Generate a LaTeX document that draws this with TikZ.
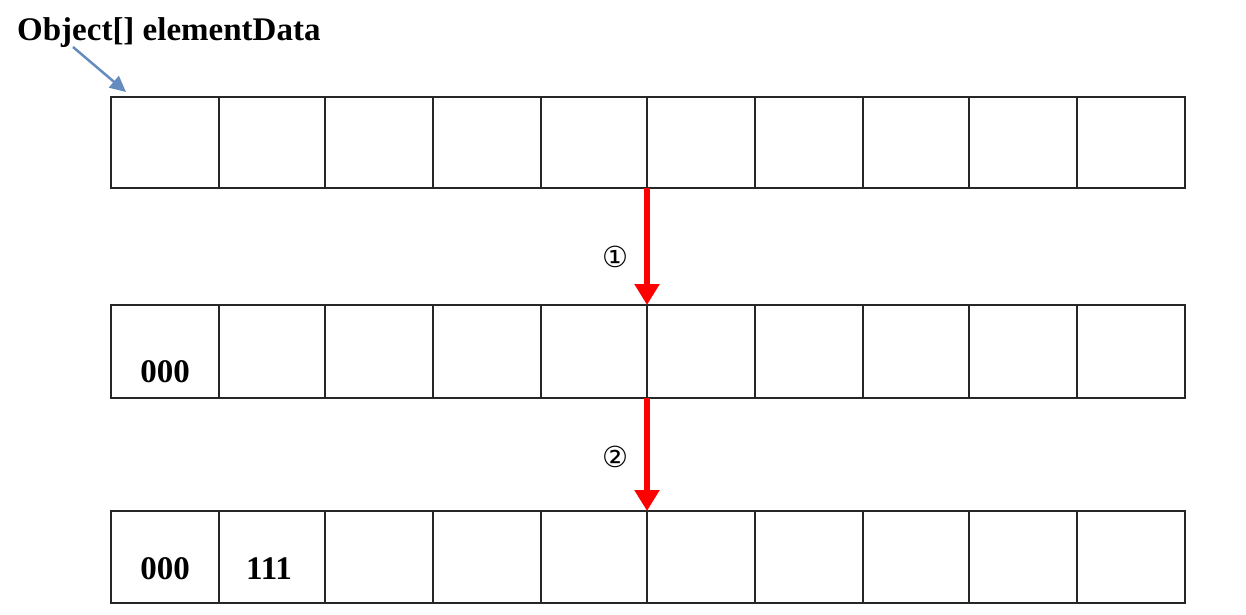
\documentclass[tikz,border=0pt]{standalone}
\usepackage{fontspec}
\setmainfont{Liberation Serif}
\newfontfamily\symfont{DejaVu Sans}
\usetikzlibrary{arrows.meta}
\begin{document}
\begin{tikzpicture}[x=1pt,y=-1pt,
  cellbox/.style={draw=black!85, line width=1.6pt},
  redarrow/.style={draw=red, line width=6pt, -{Triangle[length=21pt,width=24pt]}},
  bluearrow/.style={draw={rgb,255:red,100;green,140;blue,190}, line width=2.5pt, -{Triangle[length=16pt,width=15pt]}},
  valtext/.style={font=\bfseries\fontsize{33}{33}\selectfont, anchor=center},
  steplabel/.style={font=\symfont\fontsize{29}{29}\selectfont, anchor=center}]
\useasboundingbox (0,0) rectangle (1246,614);
\def\xs{{111,219,325,433,541,647,755,863,969,1077,1185}}
% rows
\foreach \r/\ya/\yb in {a/97/188, b/305/398, c/511/603} {
  \foreach \i in {0,...,9} {
    \pgfmathsetmacro{\xl}{\xs[\i]}
    \pgfmathtruncatemacro{\j}{\i+1}
    \pgfmathsetmacro{\xr}{\xs[\j]}
    \draw[cellbox] (\xl,\ya) rectangle (\xr,\yb);
  }
}
\node[font=\bfseries\fontsize{33}{33}\selectfont, anchor=base west, inner sep=0pt] (title) at (17,40) {Object[] elementData};
\coordinate (tailb) at (73,47);
\coordinate (headb) at (126,92);
\draw[bluearrow] (tailb) -- (headb);
% arrows
\coordinate (a1s) at (647,188);
\coordinate (a1e) at (647,305);
\coordinate (a2s) at (647,398);
\coordinate (a2e) at (647,511);
\draw[redarrow] (a1s) -- (a1e);
\draw[redarrow] (a2s) -- (a2e);
\node[steplabel] (s1) at (615,257) {①};
\node[steplabel] (s2) at (615,457) {②};
% values
\node[valtext] (v1) at (165,372) {000};
\node[valtext] (v2) at (165,569) {000};
\node[valtext] (v3) at (269,569) {111};
\end{tikzpicture}
\end{document}
